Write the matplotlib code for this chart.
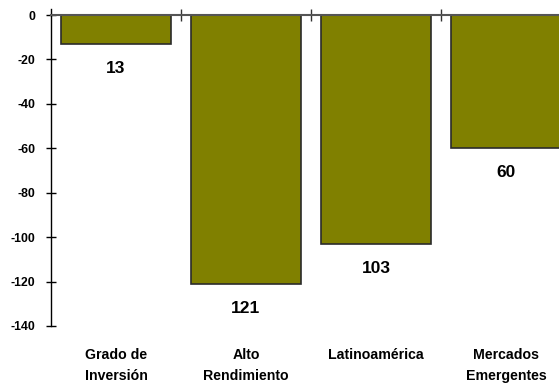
import matplotlib
matplotlib.use("Agg")
import matplotlib.pyplot as plt
import numpy as np

categories = ["Grado de\nInversión", "Alto\nRendimiento", "Latinoamérica", "Mercados\nEmergentes"]
values = [-13, -121, -103, -60]
labels = ["13", "121", "103", "60"]
yticks = [0, -20, -40, -60, -80, -100, -120, -140]

plt.rcParams['font.family'] = ['Liberation Sans', 'DejaVu Sans']
plt.rcParams['font.weight'] = 'bold'

fig = plt.figure(figsize=(5.59, 3.83), dpi=100)
ax = fig.add_axes([51/559, 1-326/383, 520/559, (326-15)/383])

x = np.arange(len(categories))
ax.bar(x, values, width=0.845, color="#808000", edgecolor="#2b2b2b", linewidth=1.2, zorder=2)
ax.set_xlim(-0.5, 3.5)
ax.set_ylim(-140, 0)

for xi, v, lab in zip(x, values, labels):
    ax.annotate(lab, (xi, v), xytext=(0, -17.5), textcoords="offset points",
                ha="center", va="center", fontsize=12.5, fontweight="bold")

ax.set_yticks(yticks)
ax.set_yticklabels([str(t) for t in yticks], fontsize=8.8, fontweight="bold")
ax.tick_params(axis='y', direction='inout', length=7, width=1, pad=8)

ax.set_xticks(x)
ax.set_xticklabels(categories, fontsize=10.2, fontweight="bold", linespacing=1.6)
ax.tick_params(axis='x', which='major', length=0, pad=16)
ax.set_xticks([0.5, 1.5, 2.5], minor=True)
ax.tick_params(axis='x', which='minor', bottom=False, top=True, direction='inout', length=9, width=1, color="#333333")

for s in ['right', 'bottom']:
    ax.spines[s].set_visible(False)
ax.spines['top'].set_color('#555555')
ax.spines['top'].set_linewidth(1.5)
ax.spines['left'].set_linewidth(1)
ax.plot([0, 0], [1, 1.018], transform=ax.transAxes, color='black', lw=1, clip_on=False)

fig.savefig("out.png", dpi=100)
